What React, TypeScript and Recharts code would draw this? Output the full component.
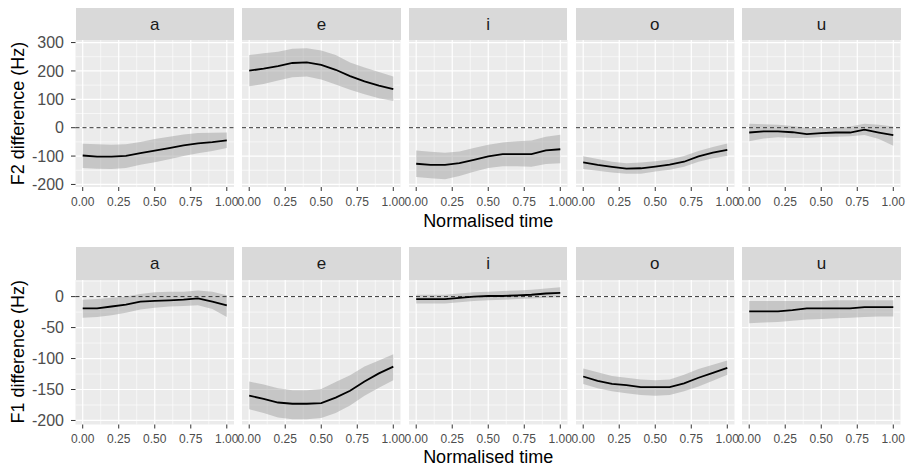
import React from 'react';
import {
  ComposedChart, Area, Line, XAxis, YAxis, CartesianGrid, ReferenceLine,
} from 'recharts';

// normalised time points
const TIME = [0, 0.1, 0.2, 0.3, 0.4, 0.5, 0.6, 0.7, 0.8, 0.9, 1];
const VOWELS = ['a', 'e', 'i', 'o', 'u'];

// F2 difference (Hz): fit, lower and upper band
const F2_A = [-98, -102, -102, -99, -90, -81, -72, -62, -55, -51, -45];
const F2_A_LO = [-142, -145, -146, -142, -131, -122, -111, -100, -90, -82, -72];
const F2_A_HI = [-57, -58, -60, -58, -50, -40, -32, -24, -19, -18, -17];
const F2_E = [201, 208, 217, 228, 230, 221, 204, 182, 163, 148, 136];
const F2_E_LO = [146, 154, 166, 178, 180, 170, 152, 134, 118, 104, 94];
const F2_E_HI = [256, 262, 268, 278, 280, 272, 256, 230, 212, 196, 180];
const F2_I = [-127, -131, -131, -125, -113, -101, -93, -93, -93, -80, -76];
const F2_I_LO = [-174, -178, -182, -170, -155, -142, -136, -136, -138, -128, -125];
const F2_I_HI = [-80, -85, -88, -84, -72, -60, -52, -48, -45, -32, -25];
const F2_O = [-122, -131, -138, -144, -143, -137, -130, -120, -101, -88, -78];
const F2_O_LO = [-146, -152, -158, -162, -162, -154, -148, -138, -120, -108, -100];
const F2_O_HI = [-101, -110, -120, -125, -123, -118, -112, -100, -82, -68, -56];
const F2_U = [-17, -13, -13, -16, -23, -19, -17, -17, -7, -17, -26];
const F2_U_LO = [-48, -38, -34, -36, -36, -33, -32, -30, -26, -40, -64];
const F2_U_HI = [14, 12, 10, 6, 0, -2, 0, 4, 14, 10, 4];

// F1 difference (Hz)
const F1_A = [-19, -19, -16, -13, -8, -7, -6, -5, -3, -8, -14];
const F1_A_LO = [-34, -33, -30, -26, -21, -18, -16, -15, -14, -20, -33];
const F1_A_HI = [-5, -4, -2, 0, 4, 7, 8, 8, 10, 8, 2];
const F1_E = [-160, -165, -171, -173, -173, -172, -163, -152, -137, -124, -113];
const F1_E_LO = [-182, -188, -195, -198, -198, -196, -188, -176, -160, -147, -135];
const F1_E_HI = [-137, -142, -148, -151, -151, -149, -138, -127, -113, -103, -93];
const F1_I = [-4, -4, -4, -2, 0, 1, 1, 2, 3, 5, 6];
const F1_I_LO = [-11, -11, -11, -9, -7, -6, -5, -4, -3, -2, -1];
const F1_I_HI = [3, 3, 3, 5, 7, 8, 9, 10, 11, 13, 15];
const F1_O = [-129, -136, -141, -143, -146, -146, -146, -140, -131, -123, -115];
const F1_O_LO = [-141, -148, -153, -156, -159, -160, -159, -153, -145, -136, -126];
const F1_O_HI = [-116, -122, -128, -131, -134, -135, -134, -126, -117, -110, -103];
const F1_U = [-24, -24, -24, -22, -19, -19, -19, -19, -17, -17, -17];
const F1_U_LO = [-43, -42, -41, -39, -37, -36, -35, -34, -33, -32, -32];
const F1_U_HI = [-7, -7, -7, -7, -7, -7, -6, -6, -6, -6, -6];

const X_TICKS = [0, 0.25, 0.5, 0.75, 1];
const X_MINOR = [0.125, 0.375, 0.625, 0.875];
const F2_TICKS = [-200, -100, 0, 100, 200, 300];
const F2_MINOR = [-150, -50, 50, 150, 250];
const F1_TICKS = [-200, -150, -100, -50, 0];
const F1_MINOR = [-175, -125, -75, -25, 25];

const build = (fit: number[], lo: number[], hi: number[]) =>
  TIME.map((t, i) => ({ t, fit: fit[i], lo: lo[i], hi: hi[i] }));

const PANEL_LEFT = 75.5;
const PANEL_W = 158.5;
const PANEL_STEP = 166.7;
const PAD = 16;
const TOP_PAD = 12;
const FONT = '"Liberation Sans", Arial, sans-serif';

const ROWS = [
  {
    stripTop: 8, panelTop: 40, panelH: 147, domain: [-209, 309],
    ticks: F2_TICKS, minor: F2_MINOR, title: 'F2 difference (Hz)', xTitleY: 226.5,
    series: [
      build(F2_A, F2_A_LO, F2_A_HI), build(F2_E, F2_E_LO, F2_E_HI),
      build(F2_I, F2_I_LO, F2_I_HI), build(F2_O, F2_O_LO, F2_O_HI),
      build(F2_U, F2_U_LO, F2_U_HI),
    ],
  },
  {
    stripTop: 246.5, panelTop: 279.5, panelH: 144.5, domain: [-206.5, 26.8],
    ticks: F1_TICKS, minor: F1_MINOR, title: 'F1 difference (Hz)', xTitleY: 462.5,
    series: [
      build(F1_A, F1_A_LO, F1_A_HI), build(F1_E, F1_E_LO, F1_E_HI),
      build(F1_I, F1_I_LO, F1_I_HI), build(F1_O, F1_O_LO, F1_O_HI),
      build(F1_U, F1_U_LO, F1_U_HI),
    ],
  },
];

function Panel({ data, row, first, left }: any) {
  const padL = first ? PANEL_LEFT : PAD;
  return (
    <div style={{ position: 'absolute', left: left - padL, top: row.panelTop - TOP_PAD }}>
      <ComposedChart
        width={PANEL_W + padL + PAD}
        height={row.panelH + 30 + TOP_PAD}
        data={data}
        margin={{ top: TOP_PAD, right: PAD, bottom: 0, left: first ? 0 : PAD }}
      >
        <CartesianGrid
          fill="#EBEBEB"
          stroke="#FFFFFF"
          strokeWidth={0.6}
          verticalValues={X_MINOR}
          horizontalValues={row.minor}
        />
        <CartesianGrid
          stroke="#FFFFFF"
          strokeWidth={1.2}
          verticalValues={X_TICKS}
          horizontalValues={row.ticks}
        />
        <XAxis
          dataKey="t"
          type="number"
          domain={[-0.05, 1.05]}
          ticks={X_TICKS}
          interval={0}
          allowDataOverflow
          tickFormatter={(v: number) => v.toFixed(2)}
          axisLine={false}
          tickSize={4}
          tickMargin={6}
          height={30}
          tick={{ fontSize: 12, fill: '#4D4D4D' }}
          tickLine={{ stroke: '#333333' }}
        />
        <YAxis
          type="number"
          domain={row.domain}
          ticks={row.ticks}
          interval={0}
          allowDataOverflow
          hide={!first}
          width={PANEL_LEFT}
          axisLine={false}
          tickSize={4.5}
          tickMargin={7}
          tick={{ fontSize: 16, fill: '#4D4D4D' }}
          tickLine={{ stroke: '#333333' }}
        />
        <Area
          dataKey={(d: any) => [d.lo, d.hi]}
          type="linear"
          stroke="none"
          fill="#999999"
          fillOpacity={0.45}
          isAnimationActive={false}
        />
        <ReferenceLine y={0} stroke="#333333" strokeDasharray="4 3" />
        <Line
          dataKey="fit"
          type="linear"
          stroke="#000000"
          strokeWidth={1.8}
          dot={false}
          isAnimationActive={false}
        />
      </ComposedChart>
    </div>
  );
}

export default function App() {
  return (
    <div style={{ position: 'absolute', left: 0, top: 0, width: 908, height: 469, background: '#FFFFFF', fontFamily: FONT }}>
      {ROWS.map((row, r) =>
        VOWELS.map((v, i) => {
          const left = PANEL_LEFT + i * PANEL_STEP;
          return (
            <React.Fragment key={`${r}-${v}`}>
              <div style={{
                position: 'absolute', left, top: row.stripTop, width: PANEL_W,
                height: row.panelTop - row.stripTop, background: '#D9D9D9',
                display: 'flex', alignItems: 'center', justifyContent: 'center',
                fontSize: 17, color: '#1A1A1A', paddingTop: 2, boxSizing: 'border-box',
              }}>
                {v}
              </div>
              <Panel data={row.series[i]} row={row} first={i === 0} left={left} />
            </React.Fragment>
          );
        })
      )}
      <svg width={908} height={469} style={{ position: 'absolute', left: 0, top: 0, pointerEvents: 'none' }}>
        {ROWS.map((row, r) => {
          const cy = row.panelTop + row.panelH / 2;
          const cx = PANEL_LEFT + (4 * PANEL_STEP + PANEL_W) / 2;
          return (
            <g key={r} fontFamily={FONT} fontSize={18} fill="#000000">
              <text x={18} y={cy} textAnchor="middle" dominantBaseline="central" transform={`rotate(-90 18 ${cy})`}>
                {row.title}
              </text>
              <text x={cx} y={row.xTitleY} textAnchor="middle">Normalised time</text>
            </g>
          );
        })}
      </svg>
    </div>
  );
}
